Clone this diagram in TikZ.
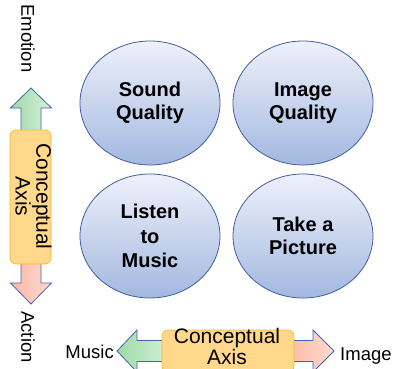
\documentclass[tikz,border=0pt]{standalone}
\usepackage{fontspec}
\setmainfont{Liberation Sans}
\usetikzlibrary{shapes.geometric}
\definecolor{ellborder}{RGB}{65,95,160}
\definecolor{elltop}{RGB}{238,241,250}
\definecolor{ellbot}{RGB}{163,184,224}
\definecolor{boxfill}{RGB}{255,216,140}
\definecolor{boxdraw}{RGB}{246,186,45}
\definecolor{arrdraw}{RGB}{70,100,170}
\definecolor{gdark}{RGB}{158,218,168}
\definecolor{glight}{RGB}{214,240,218}
\definecolor{rdark}{RGB}{250,182,165}
\definecolor{rlight}{RGB}{255,220,208}
\begin{document}
\begin{tikzpicture}[x=1pt,y=-1pt,
  bubble/.style={ellipse, minimum width=140pt, minimum height=124pt, inner sep=0pt,
    draw=ellborder, line width=0.8pt, top color=elltop, bottom color=ellbot,
    align=center, font=\fontsize{20}{23}\selectfont\bfseries},
  axisbox/.style={rectangle, rounded corners=6pt, draw=boxdraw, fill=boxfill, line width=0.8pt, inner sep=0pt},
  axistext/.style={align=center, inner sep=0pt, font=\fontsize{21}{18}\selectfont},
  lbl/.style={inner sep=0pt, font=\fontsize{18.5}{22}\selectfont},
  garrow/.style={draw=arrdraw, line width=0.8pt, left color=gdark, right color=glight},
  rarrow/.style={draw=arrdraw, line width=0.8pt, left color=rdark, right color=rlight}]
\useasboundingbox (0,0) rectangle (396,369);
\fill[white] (0,0) rectangle (396,369);

% ellipses
\node[bubble] (sq) at (150,103) {Sound\\Quality};
\node[bubble] (iq) at (303,103) {Image\\Quality};
\node[bubble, font=\fontsize{20}{24.5}\selectfont\bfseries] (lm) at (150,236) {Listen\\to\\Music};
\node[bubble] (tp) at (303,236) {Take a\\Picture};

% vertical axis arrows
\draw[garrow] (21,140) -- (21,108) -- (10.5,108) -- (31,88) -- (51.5,108) -- (41,108) -- (41,140) -- cycle;
\draw[rarrow] (21,250) -- (21,283) -- (10.5,283) -- (31,304) -- (51.5,283) -- (41,283) -- (41,250) -- cycle;
\node[axisbox, minimum width=41pt, minimum height=134pt] (vbox) at (30.5,197) {};
\node[axistext, rotate=-90] (vtext) at (33.5,196.5) {Conceptual\\Axis};
\node[lbl, rotate=-90] (emo) at (28,38.5) {Emotion};
\node[lbl, rotate=-90] (act) at (28,337) {Action};

% horizontal axis arrows
\draw[garrow] (170,340.5) -- (137,340.5) -- (137,330) -- (117,351) -- (137,372) -- (137,361.5) -- (170,361.5) -- cycle;
\draw[rarrow] (285,340.5) -- (313,340.5) -- (313,330) -- (334,351) -- (313,372) -- (313,361.5) -- (285,361.5) -- cycle;
\node[axisbox, minimum width=132pt, minimum height=42pt] (hbox) at (228,351) {};
\node[axistext] (htext) at (227,346.5) {Conceptual\\Axis};
\node[lbl, anchor=base east] (music) at (114,358.5) {Music};
\node[lbl, anchor=base west] (image) at (340,360) {Image};
\end{tikzpicture}
\end{document}
